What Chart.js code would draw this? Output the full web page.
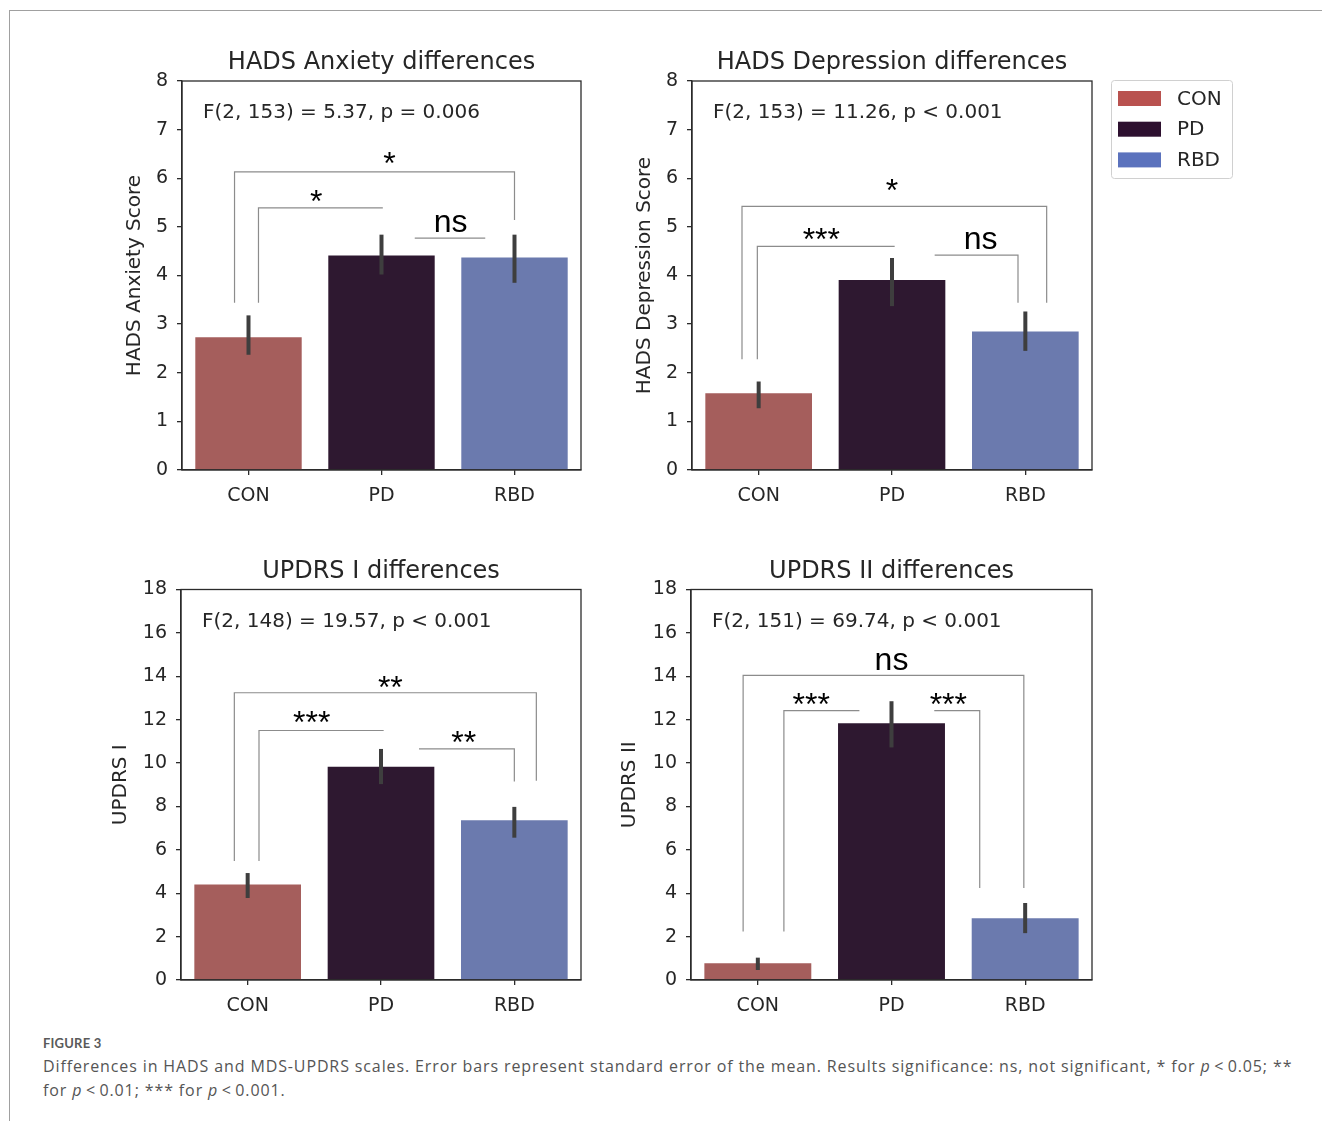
<!DOCTYPE html>
<html>
<head>
<meta charset="utf-8">
<script src="https://cdn.jsdelivr.net/npm/chart.js@4.4.1/dist/chart.umd.min.js"></script>
<style>
  body { margin: 0; background: #fff; width: 1322px; height: 1121px; position: relative; overflow: hidden; }
  .frame { position: absolute; left: 9px; top: 10px; width: 1320px; height: 1120px; border-top: 1px solid #a0a0a0; border-left: 1px solid #a0a0a0; }
  canvas { position: absolute; }
  #c1 { left: 100px; top: 40px; }
  #c2 { left: 600px; top: 40px; }
  #c3 { left: 100px; top: 550px; }
  #c4 { left: 600px; top: 550px; }
  .fig-label { position: absolute; left: 43px; top: 1035px; font: bold 13px Lato, sans-serif; color: #5a5a5a; letter-spacing: 0.2px; }
  .caption { position: absolute; left: 43px; top: 1054px; font: 16px 'Open Sans', sans-serif; color: #555; line-height: 24px; white-space: nowrap; letter-spacing: 0.88px; }
</style>
</head>
<body>
<div class="frame"></div>
<canvas id="c1" width="500" height="480"></canvas>
<canvas id="c2" width="650" height="480"></canvas>
<canvas id="c3" width="500" height="480"></canvas>
<canvas id="c4" width="500" height="480"></canvas>
<div class="fig-label">FIGURE 3</div>
<div class="caption">Differences in HADS and MDS-UPDRS scales. Error bars represent standard error of the mean. Results significance: ns, not significant, * for <i>p</i>&thinsp;&lt;&thinsp;0.05; **<br>for <i>p</i>&thinsp;&lt;&thinsp;0.01; *** for <i>p</i>&thinsp;&lt;&thinsp;0.001.</div>
<script>
// Groups (x categories)
const groups = ['CON', 'PD', 'RBD'];

// HADS Anxiety: means and error bar ends
const anxietyMeans = [2.73, 4.41, 4.37];
const anxietyLow = [2.37, 4.02, 3.85];
const anxietyHigh = [3.18, 4.84, 4.84];

// HADS Depression
const depressionMeans = [1.58, 3.91, 2.85];
const depressionLow = [1.27, 3.37, 2.45];
const depressionHigh = [1.82, 4.36, 3.26];

// UPDRS I
const updrs1Means = [4.40, 9.83, 7.36];
const updrs1Low = [3.78, 9.03, 6.56];
const updrs1High = [4.93, 10.65, 7.98];

// UPDRS II
const updrs2Means = [0.77, 11.83, 2.85];
const updrs2Low = [0.46, 10.72, 2.16];
const updrs2High = [1.03, 12.85, 3.55];

// Significance brackets: [x from, x to (category units), bar level, left drop to, right drop to]
const anxietyBrackets = [[0.075, 1.01, 5.39, 3.44, null], [-0.105, 2.0, 6.13, 3.44, 5.14], [1.25, 1.78, 4.77, null, null]];
const depressionBrackets = [[-0.125, 2.16, 5.42, 2.28, 3.44], [-0.01, 1.02, 4.60, 2.28, null], [1.32, 1.945, 4.42, null, 3.44]];
const updrs1Brackets = [[-0.10, 2.165, 13.24, 5.48, 9.18], [0.085, 1.02, 11.5, 5.48, null], [1.285, 2.0, 10.65, null, 9.15]];
const updrs2Brackets = [[-0.11, 1.99, 14.04, 2.24, 4.24], [0.195, 0.76, 12.42, 2.24, null], [1.32, 1.66, 12.42, null, 4.24]];

// Significance marks: [text, x (category units), baseline value]
const anxietyMarks = [['*', 0.51, 5.31], ['*', 1.06, 6.09], ['ns', 1.52, 4.90]];
const depressionMarks = [['*', 1.0, 5.53], ['***', 0.47, 4.52], ['ns', 1.665, 4.55]];
const updrs1Marks = [['**', 1.07, 12.98], ['***', 0.48, 11.40], ['**', 1.62, 10.48]];
const updrs2Marks = [['ns', 1.0, 14.27], ['***', 0.40, 12.20], ['***', 1.425, 12.20]];

// ANOVA result lines
const anovaTexts = ['F(2, 153) = 5.37, p = 0.006', 'F(2, 153) = 11.26, p < 0.001', 'F(2, 148) = 19.57, p < 0.001', 'F(2, 151) = 69.74, p < 0.001'];

const barColors = ['#a55e5c', '#2e1830', '#6b7aae'];
const legendColors = ['#b9524f', '#2d102f', '#5b72bd'];
const mplFont = "'DejaVu Sans', sans-serif";
const markFont = "'Liberation Sans', Arial, sans-serif";
const axisColor = '#2b2b2b';

document.addEventListener('DOMContentLoaded', () => {
    createChart('c1', {
        title: 'HADS Anxiety differences', yTitle: 'HADS Anxiety Score', anova: anovaTexts[0],
        means: anxietyMeans, low: anxietyLow, high: anxietyHigh, max: 8, step: 1,
        brackets: anxietyBrackets, marks: anxietyMarks,
        top: 41, yWidth: 82, padRight: 19, titlePad: 23
    });
    createChart('c2', {
        title: 'HADS Depression differences', yTitle: 'HADS Depression Score', anova: anovaTexts[1],
        means: depressionMeans, low: depressionLow, high: depressionHigh, max: 8, step: 1,
        brackets: depressionBrackets, marks: depressionMarks,
        top: 41, yWidth: 92, padRight: 158, titlePad: 33, legend: true
    });
    createChart('c3', {
        title: 'UPDRS I differences', yTitle: 'UPDRS I', anova: anovaTexts[2],
        means: updrs1Means, low: updrs1Low, high: updrs1High, max: 18, step: 2,
        brackets: updrs1Brackets, marks: updrs1Marks,
        top: 39.5, yWidth: 81, padRight: 19, titlePad: 9
    });
    createChart('c4', {
        title: 'UPDRS II differences', yTitle: 'UPDRS II', anova: anovaTexts[3],
        means: updrs2Means, low: updrs2Low, high: updrs2High, max: 18, step: 2,
        brackets: updrs2Brackets, marks: updrs2Marks,
        top: 39.5, yWidth: 91, padRight: 8, titlePad: 18
    });

    function createChart(id, cfg) {
        const canvas = document.getElementById(id);

        // Draws error bars, brackets, stars, frame, title, ANOVA text and legend
        const overlay = {
            id: 'overlay',
            afterDraw(chart) {
                const { ctx, chartArea: a, scales: { x, y } } = chart;
                ctx.save();

                // error bars
                ctx.strokeStyle = '#3e3e3e';
                ctx.lineWidth = 4;
                groups.forEach((g, i) => {
                    const px = x.getPixelForValue(i);
                    ctx.beginPath();
                    ctx.moveTo(px, y.getPixelForValue(cfg.low[i]));
                    ctx.lineTo(px, y.getPixelForValue(cfg.high[i]));
                    ctx.stroke();
                });

                // significance brackets
                ctx.strokeStyle = '#8c8c8c';
                ctx.lineWidth = 1.2;
                cfg.brackets.forEach(([x1, x2, lvl, d1, d2]) => {
                    const X1 = x.getPixelForValue(x1);
                    const X2 = x.getPixelForValue(x2);
                    const Y = y.getPixelForValue(lvl);
                    ctx.beginPath();
                    if (d1 !== null) {
                        ctx.moveTo(X1, y.getPixelForValue(d1));
                        ctx.lineTo(X1, Y);
                    } else {
                        ctx.moveTo(X1, Y);
                    }
                    ctx.lineTo(X2, Y);
                    if (d2 !== null) ctx.lineTo(X2, y.getPixelForValue(d2));
                    ctx.stroke();
                });

                // stars / ns
                ctx.fillStyle = '#000';
                ctx.textAlign = 'center';
                ctx.textBaseline = 'alphabetic';
                ctx.font = '32px ' + markFont;
                cfg.marks.forEach(([t, mx, my]) => {
                    ctx.fillText(t, x.getPixelForValue(mx), y.getPixelForValue(my));
                });

                // axes frame
                ctx.strokeStyle = axisColor;
                ctx.lineWidth = 1.3;
                ctx.strokeRect(a.left, a.top, a.right - a.left, a.bottom - a.top);

                // title
                ctx.fillStyle = '#262626';
                ctx.font = '24px ' + mplFont;
                ctx.textBaseline = 'middle';
                ctx.fillText(cfg.title, (a.left + a.right) / 2, a.top - 18);

                // ANOVA text
                ctx.textAlign = 'left';
                ctx.font = '20px ' + mplFont;
                ctx.fillText(cfg.anova, a.left + 21, a.top + 32);

                // legend
                if (cfg.legend) {
                    const lx = a.right + 19, ly = 40;
                    ctx.strokeStyle = '#d0d0d0';
                    ctx.lineWidth = 1;
                    ctx.beginPath();
                    ctx.roundRect(lx + 0.5, ly + 0.5, 121, 98, 3);
                    ctx.stroke();
                    ctx.font = '20px ' + mplFont;
                    groups.forEach((g, i) => {
                        const cy = ly + 18.5 + i * 30.7;
                        ctx.fillStyle = legendColors[i];
                        ctx.fillRect(lx + 7, cy - 7.5, 43, 15);
                        ctx.fillStyle = '#262626';
                        ctx.fillText(g, lx + 66, cy + 1);
                    });
                }
                ctx.restore();
            }
        };

        const tickFont = { family: mplFont, size: 19 };

        new Chart(canvas, {
            type: 'bar',
            data: {
                labels: groups,
                datasets: [{
                    data: cfg.means,
                    backgroundColor: barColors,
                    borderWidth: 0,
                    barPercentage: 0.8,
                    categoryPercentage: 1.0
                }]
            },
            options: {
                responsive: false,
                animation: false,
                layout: { padding: { left: 0, top: cfg.top, right: cfg.padRight, bottom: 0 } },
                plugins: {
                    legend: { display: false },
                    tooltip: { enabled: false },
                    title: { display: false }
                },
                scales: {
                    x: {
                        offset: true,
                        grid: { offset: false, drawOnChartArea: false, drawTicks: true, tickLength: 5, color: axisColor, lineWidth: 1.3 },
                        border: { display: true, color: axisColor, width: 1.3 },
                        ticks: { color: '#262626', font: tickFont, padding: 10 },
                        afterFit: s => { s.height = 50; }
                    },
                    y: {
                        min: 0,
                        max: cfg.max,
                        ticks: { stepSize: cfg.step, color: '#262626', font: tickFont, padding: 9 },
                        grid: { drawOnChartArea: false, drawTicks: true, tickLength: 5, color: axisColor, lineWidth: 1.3 },
                        border: { display: true, color: axisColor, width: 1.3 },
                        title: {
                            display: true,
                            text: cfg.yTitle,
                            color: '#262626',
                            font: { family: mplFont, size: 20 },
                            padding: { top: cfg.titlePad, bottom: 0 }
                        },
                        afterFit: s => { s.width = cfg.yWidth; }
                    }
                }
            },
            plugins: [overlay]
        });
    }
});
</script>
</body>
</html>
